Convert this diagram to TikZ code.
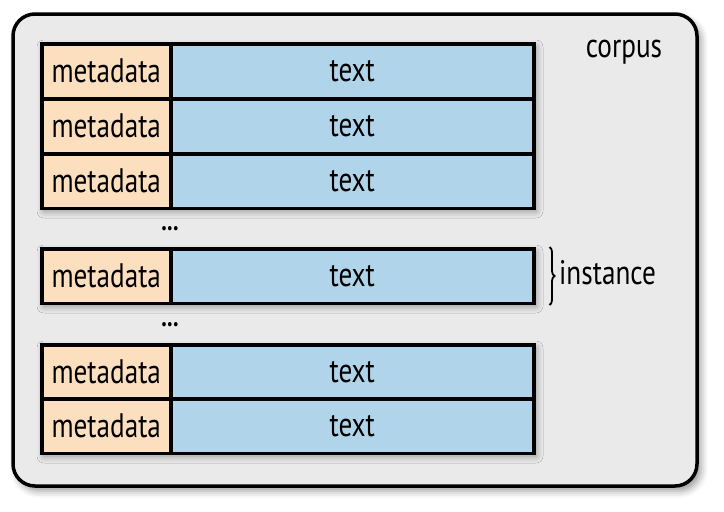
\documentclass[tikz,border=0pt]{standalone}
\usepackage{fontspec}
\setmainfont[FakeStretch=0.8]{PT Sans}
\usetikzlibrary{shadows.blur,decorations.pathreplacing}
\definecolor{meta}{HTML}{FCDFBF}
\definecolor{txt}{HTML}{B0D4EA}
\definecolor{corp}{HTML}{EAEAEA}
\tikzset{
  lbl/.style={font=\fontsize{34}{36}\selectfont, inner sep=0},
  cell/.style={draw, line width=3.5pt, inner sep=0, anchor=north west, lbl, minimum height=54.5pt},
  metabox/.style={cell, fill=meta, minimum width=129pt},
  textbox/.style={cell, fill=txt, minimum width=363pt},
  shad/.style={blur shadow={shadow xshift=4pt, shadow yshift=-5pt, shadow blur radius=7pt, shadow opacity=40}}
}
\begin{document}
\begin{tikzpicture}[x=1pt,y=-1pt]
\useasboundingbox (0,0) rectangle (724,512);
\draw[line width=3.5pt, fill=corp, rounded corners=22pt, shad] (13,14) rectangle (697,486);
\node[lbl] (corpus) at (624,52) {corpus};
% group shadows
\fill[corp, shad] (40,42) rectangle (532,206);
\fill[corp, shad] (40,247) rectangle (532,301);
\fill[corp, shad] (40,343) rectangle (532,451);
% rows
\foreach \n/\y in {r1/42, r2/97, r3/152, ri/247, r6/343, r7/397}{
  \node[metabox] (\n m) at (40,\y) {metadata};
  \node[textbox] (\n t) at (169,\y) {text};
}
\node[lbl, font=\fontsize{28}{30}\bfseries] (dots1) at (170,229) {...};
\node[lbl, font=\fontsize{28}{30}\bfseries] (dots2) at (170,325) {...};
\draw[line width=1.8pt, decorate, decoration={brace, amplitude=5pt}] ([xshift=14pt]rit.north east) -- ([xshift=14pt]rit.south east);
\node[lbl, anchor=west] (instance) at (559,273) {instance};
\end{tikzpicture}
\end{document}
